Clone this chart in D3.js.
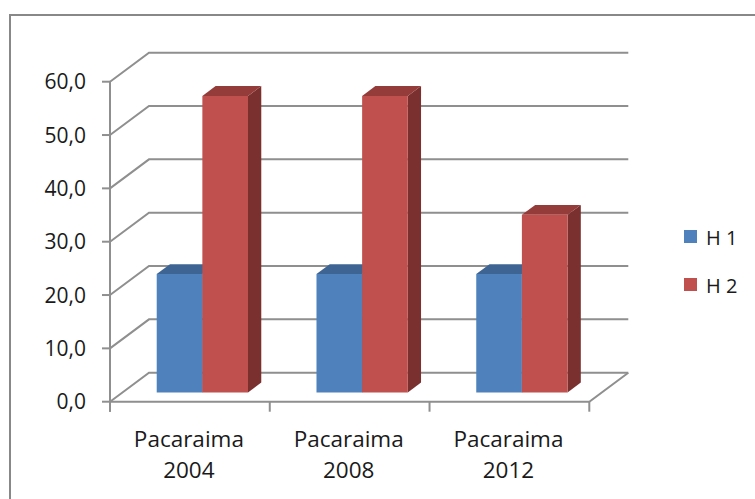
<!DOCTYPE html>
<html>
<head>
<meta charset="utf-8">
<script src="https://cdn.jsdelivr.net/npm/d3@7/dist/d3.min.js"></script>
<style>
  html, body { margin: 0; padding: 0; background: #fff; }
  svg { display: block; }
  text { font-family: "Open Sans", "Noto Sans", sans-serif; fill: #1a1a1a; }
</style>
</head>
<body>
<svg id="chart" width="755" height="499"></svg>
<script>
// ---- data ----
const categories = ["Pacaraima 2004", "Pacaraima 2008", "Pacaraima 2012"];
const seriesNames = ["H 1", "H 2"];
const h1Values = [22.2, 22.2, 22.2];
const h2Values = [55.6, 55.6, 33.3];
const yTickValues = [0, 10, 20, 30, 40, 50, 60];

const colors = {
  "H 1": { front: "#4F81BD", top: "#3D6493", side: "#385D8A" },
  "H 2": { front: "#C0504D", top: "#943C3A", side: "#7A302E" }
};

const svg = d3.select("#chart");
const W = 755, H = 499;

// outer frame
svg.append("rect").attr("x", 10).attr("y", 15).attr("width", 900).attr("height", 600)
  .attr("fill", "none").attr("stroke", "#888").attr("stroke-width", 2);

// ---- scales ----
const plotLeft = 110, plotRight = 589.3;
const x0 = d3.scaleBand().domain(categories).range([plotLeft, plotRight]).padding(0);
const bw = x0.bandwidth();
const barW = bw / 3.5;
const x1 = d3.scaleBand().domain(seriesNames).range([barW * 0.75, bw - barW * 0.75]).padding(0);
const y = d3.scaleLinear().domain([0, 60]).range([401.7, 81.7]);

// oblique depth
const DX = 39, DY = -29;
const zFront = 0.32, zBack = 0.66;
const P = (px, py, z) => [px + z * DX, py + z * DY];

const gridColor = "#8f8f8f";
const g = svg.append("g");

// gridlines: left wall diagonal + back wall horizontal
yTickValues.forEach(v => {
  const a = P(plotLeft, y(v), 0), b = P(plotLeft, y(v), 1), c = P(plotRight, y(v), 1);
  g.append("path").attr("d", d3.line()([a, b, c]))
    .attr("fill", "none").attr("stroke", gridColor).attr("stroke-width", 2);
});
// floor front edge and right edge
{
  const a = P(plotLeft, y(0), 0), b = P(plotRight, y(0), 0), c = P(plotRight, y(0), 1);
  g.append("path").attr("d", d3.line()([a, b, c]))
    .attr("fill", "none").attr("stroke", gridColor).attr("stroke-width", 2);
}
// vertical axis line
g.append("line").attr("x1", plotLeft).attr("x2", plotLeft)
  .attr("y1", y(60)).attr("y2", y(0) + 10)
  .attr("stroke", gridColor).attr("stroke-width", 2);
// y ticks
yTickValues.forEach(v => {
  g.append("line").attr("x1", plotLeft - 8).attr("x2", plotLeft)
    .attr("y1", y(v)).attr("y2", y(v))
    .attr("stroke", gridColor).attr("stroke-width", 2);
});
// x ticks
const xTickPos = categories.map(c => x0(c)).concat([plotRight]);
xTickPos.forEach(px => {
  g.append("line").attr("x1", px).attr("x2", px)
    .attr("y1", y(0)).attr("y2", y(0) + 10)
    .attr("stroke", gridColor).attr("stroke-width", 2);
});

// y labels
const fmt = v => d3.format(".1f")(v).replace(".", ",");
yTickValues.forEach(v => {
  svg.append("text").attr("x", 86).attr("y", y(v)).attr("dy", "0.36em")
    .attr("text-anchor", "end").attr("font-size", 21).text(fmt(v));
});

// x labels
categories.forEach(c => {
  const parts = c.split(" ");
  const cx = x0(c) + bw / 2 - 1;
  const t = svg.append("text").attr("text-anchor", "middle").attr("font-size", 22.5);
  t.append("tspan").attr("x", cx).attr("y", 446.7).text(parts[0]);
  t.append("tspan").attr("x", cx).attr("y", 478.3).text(parts[1]);
});

// ---- bars ----
const seriesData = [h1Values, h2Values];
const bars = svg.append("g");
categories.forEach((c, ci) => {
  seriesNames.forEach((s, si) => {
    const v = seriesData[si][ci];
    const xl = x0(c) + x1(s), xr = xl + x1.bandwidth();
    const yt = y(v), yb = y(0);
    const col = colors[s];
    const fbl = P(xl, yb, zFront), fbr = P(xr, yb, zFront), ftl = P(xl, yt, zFront), ftr = P(xr, yt, zFront);
    const bbr = P(xr, yb, zBack), btl = P(xl, yt, zBack), btr = P(xr, yt, zBack);
    // side
    bars.append("path").attr("d", d3.line()([fbr, bbr, btr, ftr]) + "Z").attr("fill", col.side);
    // top
    bars.append("path").attr("d", d3.line()([ftl, ftr, btr, btl]) + "Z").attr("fill", col.top);
    // front
    bars.append("path").attr("d", d3.line()([fbl, fbr, ftr, ftl]) + "Z").attr("fill", col.front);
  });
});

// ---- legend ----
const legendY = [230, 278];
seriesNames.forEach((s, i) => {
  svg.append("rect").attr("x", 684).attr("y", legendY[i]).attr("width", 13).attr("height", 13)
    .attr("fill", colors[s].front);
  svg.append("text").attr("x", 706).attr("y", legendY[i] + 15).attr("font-size", 20).text(s);
});
</script>
</body>
</html>
